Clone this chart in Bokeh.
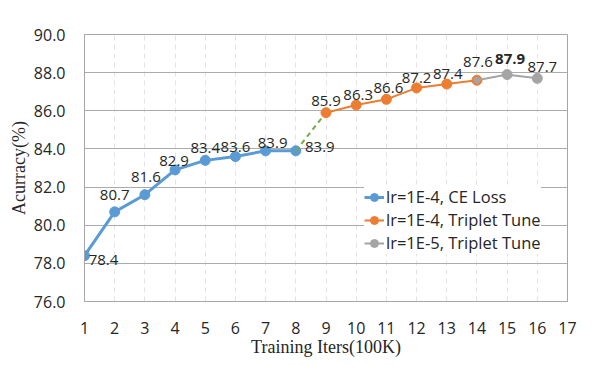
from bokeh.plotting import figure
from bokeh.models import FixedTicker, Legend, LegendItem, ColumnDataSource, Range1d, PrintfTickFormatter
from bokeh.embed import file_html
from bokeh.resources import INLINE
from bokeh.core.properties import value

# ---- data ----
ce_iters = [1, 2, 3, 4, 5, 6, 7, 8]
ce_acc = [78.4, 80.7, 81.6, 82.9, 83.4, 83.6, 83.9, 83.9]
tt4_iters = [9, 10, 11, 12, 13, 14]
tt4_acc = [85.9, 86.3, 86.6, 87.2, 87.4, 87.6]
tt5_iters = [14, 15, 16]
tt5_acc = [87.6, 87.9, 87.7]
bridge_iters = [8, 9]
bridge_acc = [83.9, 85.9]
x_ticks = list(range(1, 18))
y_ticks = [76, 78, 80, 82, 84, 86, 88, 90]
series_names = ["lr=1E-4, CE Loss", "lr=1E-4, Triplet Tune", "lr=1E-5, Triplet Tune"]

BLUE, ORANGE, GRAY, GREEN = "#5B9BD5", "#ED7D31", "#A5A5A5", "#70AD47"
TXT = "#262626"

p = figure(width=590, height=362, output_backend="svg", toolbar_location=None,
           x_range=Range1d(1, 17), y_range=Range1d(76, 90),
           min_border_left=84, min_border_right=23, min_border_top=34, min_border_bottom=61)
p.background_fill_color = "white"
p.border_fill_color = "white"
p.outline_line_color = "#A6A6A6"
p.outline_line_width = 1

# grids
p.xgrid.ticker = FixedTicker(ticks=x_ticks)
p.ygrid.ticker = FixedTicker(ticks=y_ticks)
p.xgrid.grid_line_color = "#E3E3E3"
p.xgrid.grid_line_dash = "5 4"
p.ygrid.grid_line_color = "#ABABAB"

# axes
p.xaxis.ticker = FixedTicker(ticks=x_ticks)
p.yaxis.ticker = FixedTicker(ticks=y_ticks)
p.yaxis.formatter = PrintfTickFormatter(format="%.1f")
for ax in (p.xaxis[0], p.yaxis[0]):
    ax.axis_line_color = "#A6A6A6"
    ax.major_tick_line_color = None
    ax.minor_tick_line_color = None
    ax.major_label_text_font = "Open Sans"
    ax.major_label_text_font_size = "16px"
    ax.major_label_text_color = TXT
    ax.axis_label_text_font = "Liberation Serif"
    ax.axis_label_text_font_size = "18px"
    ax.axis_label_text_font_style = "normal"
    ax.axis_label_text_color = TXT
p.xaxis.major_label_standoff = 14
p.yaxis.major_label_standoff = 13
p.xaxis.axis_label = "Training Iters(100K)"
p.yaxis.axis_label = "Acurracy(%)"
p.xaxis.axis_label_standoff = 0
p.yaxis.axis_label_standoff = 2

# series
b_line = p.line(ce_iters, ce_acc, line_color=BLUE, line_width=3)
b_pts = p.scatter(ce_iters, ce_acc, size=10, fill_color=BLUE, line_color=BLUE)
p.line(bridge_iters, bridge_acc, line_color=GREEN, line_width=2, line_dash="5 4")
o_line = p.line(tt4_iters, tt4_acc, line_color=ORANGE, line_width=2)
o_pts = p.scatter(tt4_iters, tt4_acc, size=10, fill_color=ORANGE, line_color=ORANGE)
g_line = p.line(tt5_iters, tt5_acc, line_color=GRAY, line_width=2)
p.scatter(tt5_iters[:1], tt5_acc[:1], size=6, fill_color=GRAY, line_color=GRAY)
g_pts = p.scatter(tt5_iters[1:], tt5_acc[1:], size=10, fill_color=GRAY, line_color=GRAY)

# data labels
lab_x = ce_iters + tt4_iters + tt5_iters[1:]
lab_y = ce_acc + tt4_acc + tt5_acc[1:]
lab_t = ["%.1f" % v for v in lab_y]
dx = [19, 0, 1, -1, 0, 0, 7, 24, 0, 2, 2, 0, 1, 1, 3, 5]
dy = [-4, 17, 18, 9, 12, 10, 8, 4, 12, 10, 11, 9.5, 10.5, 18.5, 16, 11.6]
styles = ["normal"] * len(lab_t)
styles[-2] = "bold"
src = ColumnDataSource(dict(x=lab_x, y=lab_y, t=lab_t, xo=dx, yo=[-d for d in dy], st=styles))
p.text(x="x", y="y", text="t", x_offset="xo", y_offset="yo", text_font_style="st", source=src,
       text_font=value("Open Sans"), text_font_size="15px", text_color=TXT,
       text_align="center", text_baseline="middle")

legend = Legend(items=[
    LegendItem(label=series_names[0], renderers=[b_line, b_pts]),
    LegendItem(label=series_names[1], renderers=[o_line, o_pts]),
    LegendItem(label=series_names[2], renderers=[g_line, g_pts]),
], location=(280, 47))
legend.border_line_color = None
legend.background_fill_color = "white"
legend.background_fill_alpha = 1
legend.padding = 6
legend.margin = 0
legend.spacing = 0
legend.glyph_width = 20
legend.glyph_height = 20
legend.label_height = 20
legend.label_standoff = 2
legend.label_text_font = "Open Sans"
legend.label_text_font_size = "16.5px"
legend.label_text_color = TXT
p.add_layout(legend)

open("out.html", "w").write(file_html(p, INLINE))
